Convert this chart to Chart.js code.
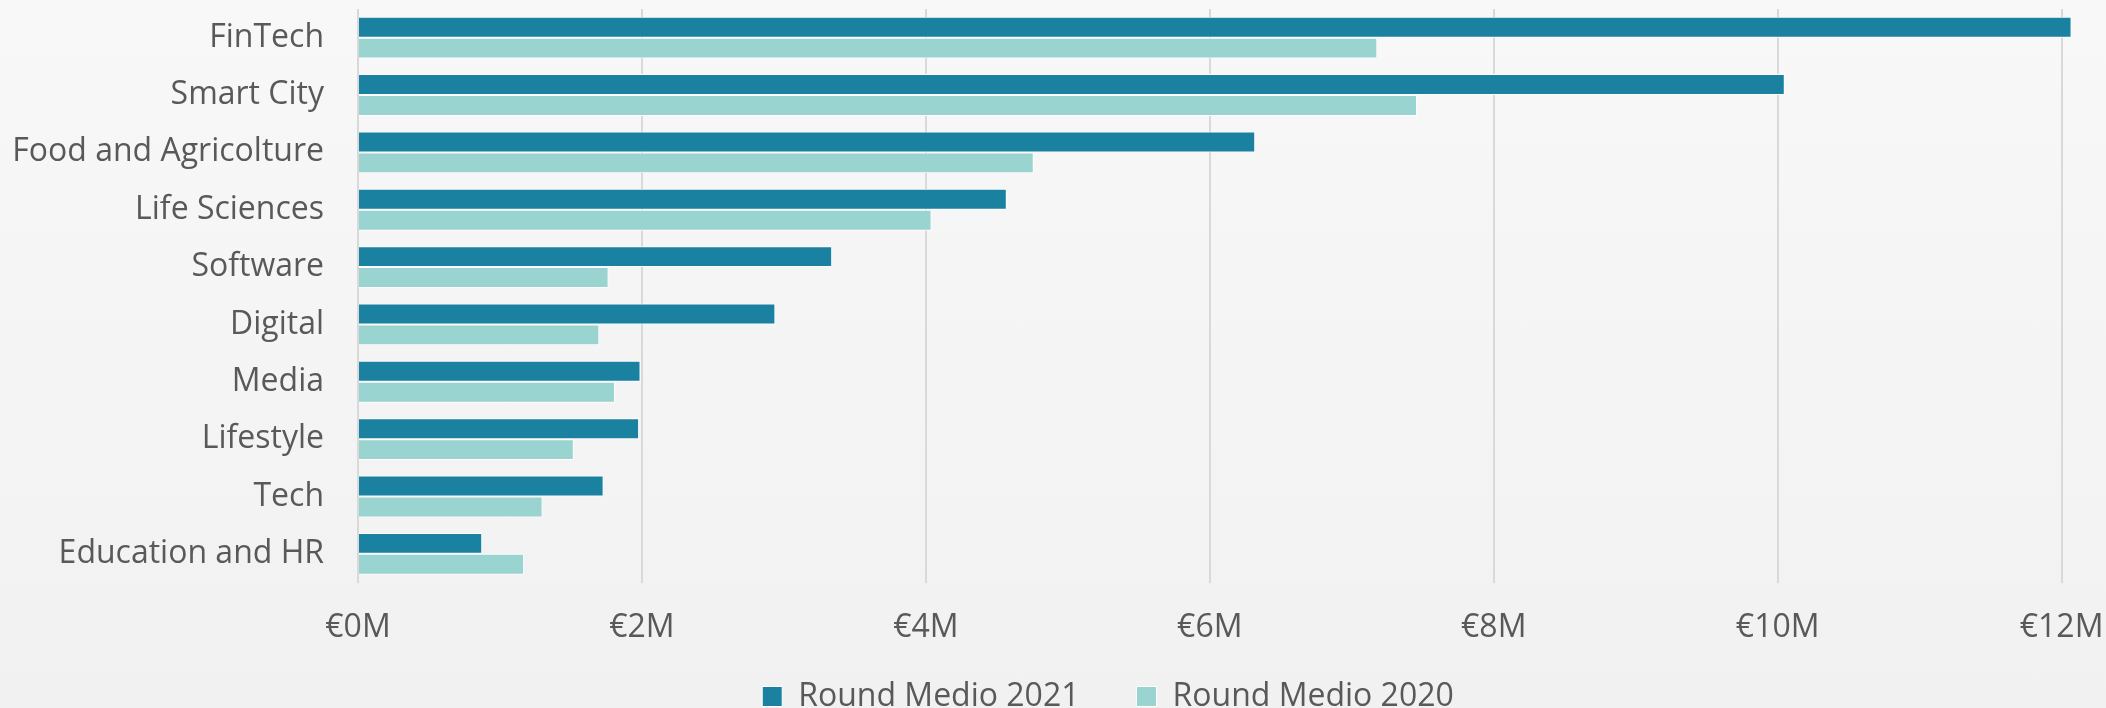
<!DOCTYPE html>
<html>
<head>
<meta charset="utf-8">
<script src="https://cdn.jsdelivr.net/npm/chart.js@4.4.1/dist/chart.umd.min.js"></script>
<style>
  html, body { margin: 0; padding: 0; }
  body {
    width: 2106px;
    height: 708px;
    background: linear-gradient(#f8f8f8, #f1f1f1);
    overflow: hidden;
  }
  #wrap { position: relative; width: 2106px; height: 708px; }
</style>
</head>
<body>
<div id="wrap"><canvas id="roundChart"></canvas></div>
<script>
// settori, valori in milioni di euro
const sectors = ['FinTech', 'Smart City', 'Food and Agricolture', 'Life Sciences', 'Software',
  'Digital', 'Media', 'Lifestyle', 'Tech', 'Education and HR'];
const round2021 = [12.07, 10.05, 6.32, 4.57, 3.34, 2.94, 1.99, 1.98, 1.73, 0.875];
const round2020 = [7.18, 7.46, 4.76, 4.04, 1.765, 1.70, 1.81, 1.52, 1.30, 1.17];
const xTicks = [0, 2, 4, 6, 8, 10, 12];
const xMax = 12.2;

const TEXT = '#595959';
const FONT = { family: "'Open Sans', sans-serif", size: 32 };
const LEGEND_SHIFT_X = 63;
const LEGEND_SHIFT_Y = -27;

Chart.defaults.font.family = FONT.family;
Chart.defaults.color = TEXT;

// sposta la legenda come nell'originale
const legendShift = {
  id: 'legendShift',
  afterLayout(chart) {
    const lg = chart.legend;
    lg.left += LEGEND_SHIFT_X;
    lg.right += LEGEND_SHIFT_X;
    lg.top += LEGEND_SHIFT_Y;
    lg.bottom += LEGEND_SHIFT_Y;
  }
};

new Chart(document.getElementById('roundChart'), {
  type: 'bar',
  data: {
    labels: sectors,
    datasets: [
      {
        label: 'Round Medio 2021',
        data: round2021,
        backgroundColor: '#1b81a0',
        borderColor: '#ffffff',
        borderWidth: 1
      },
      {
        label: 'Round Medio 2020',
        data: round2020,
        backgroundColor: '#9ad4d0',
        borderColor: '#ffffff',
        borderWidth: 1
      }
    ]
  },
  options: {
    indexAxis: 'y',
    responsive: true,
    maintainAspectRatio: false,
    animation: false,
    categoryPercentage: 0.73,
    barPercentage: 1.0,
    layout: {
      autoPadding: false,
      padding: { left: 0, right: 16, top: 9, bottom: -41.5 }
    },
    plugins: {
      tooltip: { enabled: false },
      legend: {
        position: 'bottom',
        labels: {
          font: FONT,
          color: TEXT,
          boxWidth: 20,
          boxHeight: 20,
          padding: 57
        }
      }
    },
    scales: {
      x: {
        min: 0,
        max: xMax,
        afterBuildTicks(axis) {
          axis.ticks = xTicks.map(v => ({ value: v }));
        },
        afterFit(axis) {
          axis.paddingLeft = 0;
          axis.paddingRight = 0;
          axis.height = 68;
        },
        ticks: {
          font: FONT,
          color: TEXT,
          padding: 26,
          maxRotation: 0,
          callback: v => '€' + v + 'M'
        },
        grid: { color: '#d9d9d9', lineWidth: 2, drawTicks: false },
        border: { display: false }
      },
      y: {
        afterFit(axis) {
          axis.width = 358;
          axis.paddingTop = 0;
          axis.paddingBottom = 0;
        },
        ticks: { font: FONT, color: TEXT, padding: 34 },
        grid: { display: false, drawTicks: false },
        border: { display: false }
      }
    }
  },
  plugins: [legendShift]
});
</script>
</body>
</html>
